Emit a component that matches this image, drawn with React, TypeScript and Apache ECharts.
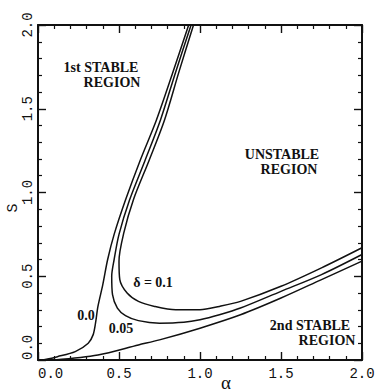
import React, { useEffect, useRef } from "react";
import * as echarts from "echarts";

// δ = 0.0 : first-stability branch (left) and second-stability branch (bottom)
const d00LeftAlpha = [0.03, 0.12, 0.23, 0.31, 0.34, 0.355, 0.37, 0.40, 0.43, 0.47, 0.54, 0.63, 0.73, 0.83, 0.93];
const d00LeftS = [0.0, 0.02, 0.05, 0.10, 0.15, 0.22, 0.32, 0.45, 0.60, 0.75, 0.955, 1.19, 1.43, 1.71, 2.0];
const d00LowAlpha = [0.1, 0.37, 0.62, 0.75, 1.0, 1.25, 1.5, 1.75, 2.0];
const d00LowS = [0.0, 0.03, 0.09, 0.12, 0.19, 0.27, 0.37, 0.48, 0.59];

// δ = 0.05
const d05Alpha = [0.945, 0.85, 0.755, 0.66, 0.565, 0.50, 0.47, 0.455, 0.46, 0.49, 0.54, 0.62, 0.75, 0.9, 1.0, 1.12, 1.25, 1.5, 1.75, 2.0];
const d05S = [2.0, 1.72, 1.43, 1.19, 0.955, 0.75, 0.6, 0.5, 0.39, 0.31, 0.265, 0.235, 0.22, 0.225, 0.24, 0.27, 0.31, 0.41, 0.51, 0.63];

// δ = 0.1
const d10Alpha = [0.96, 0.87, 0.78, 0.685, 0.59, 0.53, 0.50, 0.505, 0.55, 0.62, 0.72, 0.85, 1.0, 1.12, 1.25, 1.5, 1.75, 2.0];
const d10S = [2.0, 1.72, 1.43, 1.19, 0.96, 0.76, 0.59, 0.48, 0.40, 0.35, 0.32, 0.30, 0.30, 0.32, 0.35, 0.44, 0.55, 0.67];

const xTicks = { min: 0, max: 2, interval: 0.5 };
const yTicks = { min: 0, max: 2, interval: 0.5 };

const zip = (a: number[], b: number[]) => a.map((v, i) => [v, b[i]]);

const tickFont = {
  fontFamily: "Liberation Mono",
  fontSize: 14,
  color: "#111",
};

function axisBase(show: boolean) {
  return {
    type: "value" as const,
    ...xTicks,
    axisLine: { show: true, onZero: false, lineStyle: { color: "#111", width: 2 } },
    axisTick: { show: true, inside: true, length: 8, lineStyle: { color: "#111", width: 1.4 } },
    minorTick: { show: true, splitNumber: 5, length: 4, lineStyle: { color: "#111", width: 1.2 } },
    splitLine: { show: false },
    minorSplitLine: { show: false },
    axisLabel: show
      ? { show: true, ...tickFont, formatter: (v: number) => v.toFixed(1), alignMinLabel: "left" }
      : { show: false },
  };
}

export default function App() {
  const ref = useRef<HTMLDivElement>(null);
  useEffect(() => {
    if (!ref.current) return;
    const chart = echarts.init(ref.current, null, { renderer: "svg" });
    const line = (data: number[][]) => ({
      type: "line",
      data,
      smooth: 0.3,
      showSymbol: false,
      symbol: "none",
      clip: true,
      lineStyle: { color: "#111", width: 1.5 },
      xAxisIndex: 0,
      yAxisIndex: 0,
    });
    const lbl = (text: string, x: number, y: number) => ({
      type: "text",
      x,
      y,
      style: { text, font: "bold 14px Liberation Serif", fill: "#111", align: "center", verticalAlign: "middle" },
    });
    chart.setOption({
      animation: false,
      backgroundColor: "#fff",
      grid: { left: 38, right: 22, top: 25, bottom: 32 },
      xAxis: [
        { ...axisBase(true), position: "bottom", axisLabel: { ...axisBase(true).axisLabel, margin: 7 } },
        { ...axisBase(false), position: "top" },
      ],
      yAxis: [
        {
          ...axisBase(false),
          ...yTicks,
          position: "left",
          axisLabel: {
            show: true,
            ...tickFont,
            rotate: 90,
            margin: 3,
            formatter: (v: number) => v.toFixed(1),
            alignMinLabel: "left",
          },
        },
        { ...axisBase(false), ...yTicks, position: "right" },
      ],
      series: [
        line(zip(d00LeftAlpha, d00LeftS)),
        line(zip(d00LowAlpha, d00LowS)),
        line(zip(d05Alpha, d05S)),
        line(zip(d10Alpha, d10S)),
      ],
      graphic: [
        { type: "text", x: 226, y: 382, style: { text: "α", font: "19px Liberation Serif", fill: "#111", align: "center", verticalAlign: "middle" } },
        { type: "text", x: 13, y: 208, rotation: Math.PI / 2, style: { text: "S", font: "15px Liberation Mono", fill: "#111", align: "center", verticalAlign: "middle" } },
        lbl("1st STABLE", 101, 67),
        lbl("REGION", 112, 82),
        lbl("UNSTABLE", 282, 154),
        lbl("REGION", 289, 169),
        lbl("2nd STABLE", 310, 325),
        lbl("REGION", 327, 340),
        lbl("δ = 0.1", 153, 282),
        lbl("0.0", 86, 315),
        lbl("0.05", 121, 328),
      ],
    });
    return () => chart.dispose();
  }, []);
  return <div ref={ref} style={{ width: 384, height: 392, position: "absolute", left: 0, top: 0 }} />;
}
